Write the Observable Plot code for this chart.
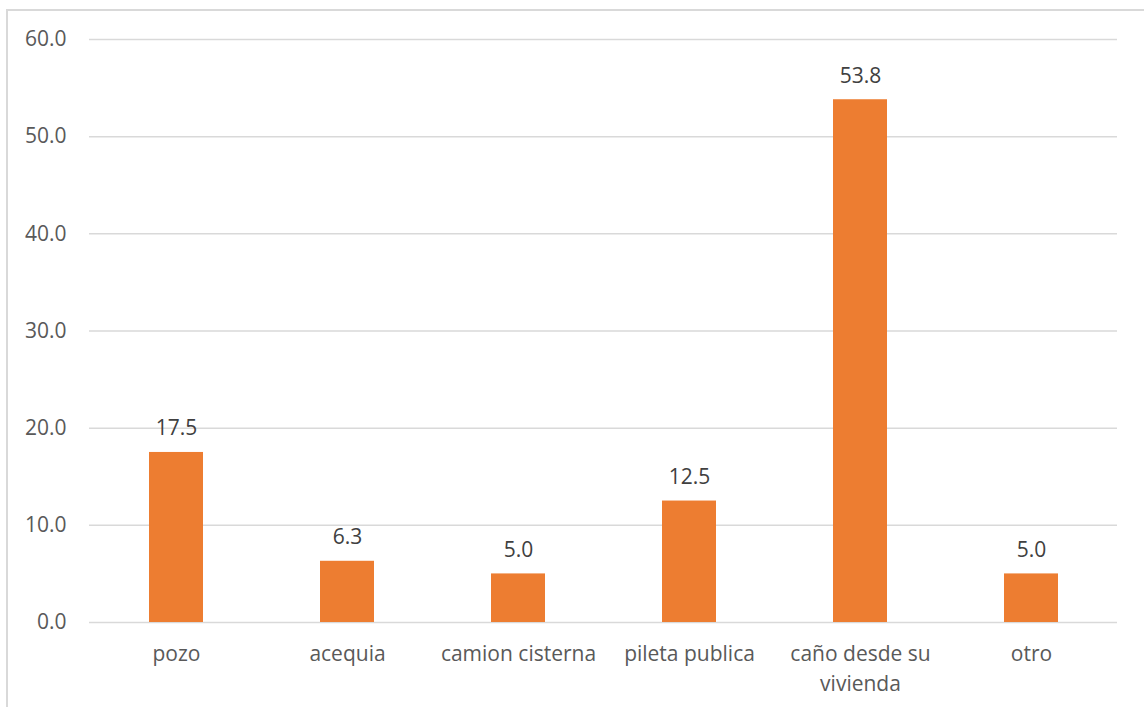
<!DOCTYPE html>
<html>
<head>
<meta charset="utf-8">
<script src="https://cdn.jsdelivr.net/npm/d3@7"></script>
<script src="https://cdn.jsdelivr.net/npm/@observablehq/plot@0.6"></script>
<style>
  html, body { margin: 0; padding: 0; background: #fff; }
  #wrap { position: relative; width: 1144px; height: 707px; overflow: hidden; }
  #frame { position: absolute; left: 6px; top: 9px; width: 1200px; height: 800px;
           border-left: 2px solid #D9D9D9; border-top: 2px solid #D9D9D9; box-sizing: border-box; }
  #chart { position: absolute; left: 0; top: 0; }
</style>
</head>
<body>
<div id="wrap"><div id="frame"></div><div id="chart"></div></div>
<script>
const categories = ["pozo", "acequia", "camion cisterna", "pileta publica", "caño desde su\nvivienda", "otro"];
const values = [17.5, 6.3, 5.0, 12.5, 53.8, 5.0];
const yTicks = [0, 10, 20, 30, 40, 50, 60];

const data = categories.map((c, i) => ({cat: c, val: values[i]}));
const font = "'Open Sans', sans-serif";

const chart = Plot.plot({
  width: 1144,
  height: 707,
  marginLeft: 89,
  marginRight: 27,
  marginTop: 39,
  marginBottom: 85,
  style: {fontFamily: font, fontSize: "21px", color: "#595959", background: "transparent"},
  x: {domain: categories, paddingInner: 0.685, paddingOuter: 0.3425, label: null},
  y: {domain: [0, 60], label: null},
  marks: [
    Plot.gridY(yTicks, {stroke: "#D9D9D9", strokeOpacity: 1, strokeWidth: 1.5}),
    Plot.barY(data, {x: "cat", y: "val", fill: "#ED7D31"}),
    Plot.text(data, {x: "cat", y: "val", text: d => d.val.toFixed(1), lineAnchor: "bottom", dy: -17, fill: "#404040", fontSize: 21}),
    Plot.axisY(yTicks, {tickSize: 0, tickPadding: 23, tickFormat: d => d.toFixed(1), fill: "#595959", fontSize: 21, label: null}),
    Plot.axisX({tickSize: 0, tickPadding: 18, lineAnchor: "top", lineHeight: 1.4, fill: "#595959", fontSize: 21, label: null})
  ]
});
document.getElementById("chart").appendChild(chart);
</script>
</body>
</html>
